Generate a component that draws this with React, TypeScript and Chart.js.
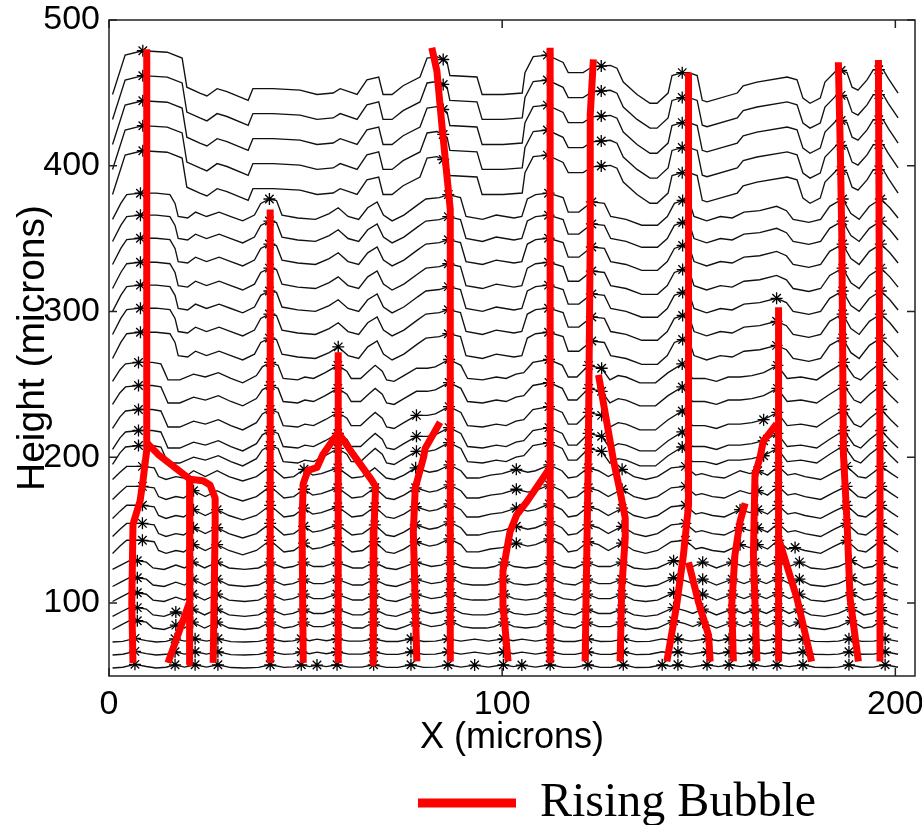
import React, { useEffect, useRef } from 'react';
import { Chart, registerables } from 'chart.js';

Chart.register(...registerables);

// Axis ticks
const X_TICKS = [0, 100, 200];
const Y_TICKS = [100, 200, 300, 400, 500];

// Level (microns) of each interface contour at its right end, bottom to top
const LINE_LEVELS = [
  55.5, 64.4, 73.3, 82.9, 91.9, 102.1, 112.4, 124.1, 135.1, 146.7,
  159.1, 172.1, 185.8, 196.1, 206.4, 220.8, 237.3, 253.1, 268.8, 285.3,
  301.1, 316.8, 333.3, 349.1, 364.2, 381.3, 398.5, 415.6, 432.8, 449.9,
];
// Which read-off profile each contour follows
const LINE_SHAPE = [
  'F', 'F', 'F', 'E', 'E', 'E', 'E', 'E', 'D', 'D',
  'D', 'D', 'D', 'C', 'C', 'C', 'C', 'C', 'B', 'B',
  'B', 'B', 'B', 'B', 'B', 'A', 'A', 'A', 'A', 'A',
];

// Profiles: [x, height above level, (bubble-track top: asterisk shown on contours below it)]
const PROFILE_A = [
  [0.9, -1], [4.1, 26], [8.6, 29, 480], [14.8, 28], [18.6, 24], [19.8, 4], [23.1, 0], [24.9, -2],
  [27.5, 3], [30, 1], [35.4, -5], [36.6, 3], [41.7, 3], [48.6, 2], [52.9, -1], [57, 0],
  [58.8, 3], [63.1, -1], [65.6, 9], [68.6, 11], [69.7, -1], [72, -1], [74.8, 5], [79.1, 11],
  [80.9, 24], [83.4, 25], [85, 23, 481], [86, 21], [86.7, 12], [93.6, 11], [94.9, -1], [100.2, -1],
  [105.1, 0], [105.8, 14], [107.9, 25], [111.5, 26, 481], [115.5, 21], [116.8, 14], [120.6, 14], [122.9, 18],
  [125.2, 18.5, 473], [127.5, 19], [129.2, 17], [130.8, 7.5], [134.3, -1], [137.6, -7], [139.4, -7], [142.2, 0],
  [143.2, 12], [145.8, 14, 464], [147.5, 14], [149.6, 12], [150.9, -5], [152.1, -6], [159.8, 0], [161.3, 5],
  [164.8, 7.5], [172.5, 11], [175, 9], [176.5, -3.5], [178.3, -7], [180.9, -3.5], [182.1, 7.5], [185.2, 16],
  [186.2, 15.5, 471], [187.7, 14], [189, 4], [190.5, 2], [192.8, 9], [194.4, 16], [195.8, 16, 472], [196.9, 16],
  [198.2, 10], [200.7, 0],
];
const PROFILE_B = [
  [0.9, -1], [3, 10], [4.5, 16], [8, 17, 480], [12, 17], [15.5, 16], [16.8, 10], [17.6, 1],
  [20, 0], [22, 4], [24.8, 1], [28, 4], [31, 1], [34, -2], [37, 2], [38.6, 10],
  [40.8, 13, 370], [42.6, 12], [44, 2], [48, 0], [52.5, -1], [56, 3], [58.3, 7, 272], [60.8, 1],
  [63.5, -1], [65.8, 7], [68.2, 11], [69.8, 2], [72, -2], [75, 2], [78.5, 9], [80.6, 13],
  [84, 14], [86.3, 16, 481], [89.4, 14], [90.8, 1], [95, -1], [98.5, 2], [103, 0], [105, 1],
  [106.4, 13], [108.5, 16], [111.8, 17, 481], [115.5, 14], [116.8, 4], [119.5, 4], [122.8, 11, 473], [126, 10],
  [127.6, 1], [131.5, -1], [135.5, -5], [139.5, -5], [142, 1], [143.8, 10], [145.9, 12, 464], [147.6, 11],
  [148.8, 1], [152, -2], [155.5, 1], [158.5, 0], [161.5, 4], [165.5, 5], [169.8, 8, 303], [172.3, 5],
  [174, -1], [178, -3], [181, -1], [183.3, 8], [186.6, 13, 471], [188.7, 3], [190.8, -1], [193.4, 8],
  [196.3, 13, 472], [198.6, 7], [200.7, 0],
];
const PROFILE_C = [
  [0.9, -1], [2.8, 7], [4.2, 11], [7.5, 12, 480], [11, 12], [13.2, 11], [14.2, 5], [15, 0],
  [18, 0], [21.5, 4, 185], [24.5, 2], [27.8, 5, 172], [31, 1], [34, -2], [37.5, 3], [39, 9],
  [41, 12, 370], [43, 10], [44.3, 1], [48, 0], [49.8, 2, 190], [52, 1], [55, 5], [58.2, 10, 272],
  [60.5, 6], [61.6, 1], [64, 1], [66, 6], [67.7, 10, 180], [69.5, 6], [70.6, 0], [72.5, -1],
  [75, 3], [78.2, 8, 224], [81, 8], [83, 9], [86.5, 14, 481], [89.5, 10], [91.2, 1], [95, 0],
  [98.5, 2], [101, 1], [103.5, 4, 190], [105.5, 5], [107.8, 12], [111.9, 14, 481], [115.3, 10], [116.8, 2],
  [119, 2], [122, 10, 473], [125.3, 8, 256], [127.4, 0], [129.5, 3], [131.5, 2], [135, -2], [139, -2],
  [142.2, 5], [145.8, 11, 464], [148.4, 1], [151.5, 1], [154.5, -1], [157.5, 2], [160.5, 2], [163.5, 3],
  [166.5, 5, 223], [170, 10, 303], [172.5, 1], [176, 2], [180, 0], [183.3, 6], [186.9, 12, 471], [189.5, 2],
  [191.2, 0], [193.5, 6], [196.4, 12, 472], [198.8, 5], [200.7, 0],
];
const PROFILE_D = [
  [0.9, -1], [2.8, 4], [4.5, 8], [8.5, 8, 480], [11.5, 7], [12.6, 1], [14.5, -1], [17, 1],
  [19, 0], [21.5, 5, 185], [24.5, 1], [27.5, 5, 172], [30.5, 1], [34, -2], [37.5, 1], [41, 8, 370],
  [44.5, 0], [47, 1], [49.6, 6, 190], [51.8, 2], [54, 3], [58.2, 7, 272], [61.8, 0], [64.5, 1],
  [67.6, 7, 180], [70.5, 0], [72.5, -1], [75, 2], [78, 7, 224], [81.5, 4], [83.5, 5], [86.6, 9, 481],
  [89.5, 5], [91, 0], [94, 0], [97, 2], [100, 3], [103.6, 6, 190], [106.5, 4], [108.5, 5],
  [112, 9, 481], [115.2, 5], [116.8, 0], [119, 1], [121.9, 7, 473], [124.5, 5], [127, 1], [130.5, 6, 256],
  [133.5, 1], [136.5, -1], [139.5, 1], [143, 7], [146.6, 8, 464], [149.2, 2], [150.8, 3], [153.5, 1],
  [156.5, 0], [160.5, 5, 168], [163, 3], [165, 5, 223], [167.5, 2], [170.2, 8, 303], [172.6, 2], [174.5, 3, 144],
  [177, 1], [181, -1], [184.5, 4], [187.6, 8, 471], [190.5, 1], [192.5, 0], [194.5, 4], [196.4, 8, 472],
  [199, 3], [200.7, 0],
];
const PROFILE_E = [
  [0.9, -1], [3, 2], [5.2, 5], [7.2, 5, 480], [9.5, 4], [11.2, 0], [14, -1], [17, 2, 100],
  [19.2, 0], [21.3, 4, 185], [24.3, 0], [27.5, 4, 172], [30.5, 0], [34.5, -1], [38, 0], [41, 4, 370],
  [44.5, 0], [46.8, 1], [49.5, 4, 190], [52, 1], [54.5, 1], [58, 4, 272], [62, 0], [64.5, 0],
  [67.4, 4, 180], [70.5, 0], [73, -1], [75.2, 1], [78, 4, 224], [82, 1], [84.5, 2], [86.8, 5, 481],
  [89.8, 1], [92.5, 0], [96, 0], [98, 1], [100.5, 4, 190], [103, 1], [106, 0], [109, 1],
  [112.1, 5, 481], [115.5, 1], [118.5, 0], [121.6, 4, 473], [124.5, 1], [127.5, 1], [130.4, 4, 256], [133.5, 0],
  [136.5, -1], [139.5, 0], [143.6, 5, 464], [146.5, 3], [148.5, 1], [151, 4, 128], [154.5, 0], [158.5, 4, 168],
  [161.5, 1], [164.3, 4, 223], [167.2, 1], [170.2, 5, 303], [173, 1], [175.6, 4, 144], [178.5, 0], [182, -1],
  [185.5, 1], [188.8, 5, 471], [192, 0], [194.2, 1], [196.4, 5, 472], [199, 1], [200.7, 0],
];
const PROFILE_F = [
  [0.9, 0], [3.5, 0.5], [6.6, 2.5, 480], [9.5, 1], [12, 0], [14.5, 0.5], [16.8, 2.2, 100], [19.2, 0.6],
  [21.9, 2.2, 185], [24.8, 0.6], [27.7, 2.2, 172], [31, 0.3], [34.5, 0], [38, 0.4], [41, 2.2, 370], [44.5, 0.4],
  [46.8, 0.8], [48.9, 2.2, 190], [51, 0.9], [52.9, 2, 60], [55.3, 0.9], [58, 2.2, 272], [61, 0.6], [64.3, 0.6],
  [67.3, 2.2, 180], [70.5, 0.4], [73.5, 0.4], [76.8, 2.2, 224], [80, 0.4], [83, 0.6], [86.2, 2.2, 481], [89.5, 0.6],
  [93, 2, 60], [96.5, 0.6], [100.3, 2.2, 190], [102.8, 0.9], [105, 2, 60], [108.5, 0.6], [112.2, 2.2, 481], [115.5, 0.4],
  [118.5, 0.4], [121.8, 2.2, 473], [125, 0.4], [127.8, 0.5], [130.8, 2.2, 256], [134, 0.3], [137.5, 0.5], [140.7, 2.2, 60],
  [142.7, 1.2], [144.7, 2.2, 464], [148, 0.6], [152.1, 2.2, 128], [155, 0.9], [157.7, 2.2, 168], [160.7, 0.9], [163.8, 2.2, 223],
  [166.8, 0.9], [169.9, 2.2, 303], [173, 0.9], [176.5, 2.2, 144], [179.5, 0.5], [183, 0.3], [185.5, 0.6], [188.2, 2.2, 471],
  [191.5, 0.5], [194.5, 0.6], [197.4, 2.2, 472], [200.7, 0.5],
];
const PROFILES = { A: PROFILE_A, B: PROFILE_B, C: PROFILE_C, D: PROFILE_D, E: PROFILE_E, F: PROFILE_F };

// Rising bubble tracks [x, y]
const TRACK_1 = [[6.1, 59], [5.8, 100], [6.1, 154], [7.9, 170], [8.6, 183], [9.6, 205], [9.6, 480]];
const TRACK_1B = [[9.6, 210], [12.5, 202], [20.6, 185], [23.9, 184], [25.7, 181], [27, 172], [27, 154], [26.5, 59]];
const TRACK_2 = [[20.6, 185], [20.4, 100], [20.6, 59]];
const TRACK_2B = [[20.4, 100], [15, 59]];
const TRACK_3 = [[41, 59], [41, 370]];
const TRACK_4 = [[58.3, 59], [58.3, 272]];
const TRACK_4B = [[58.3, 217], [54.4, 202], [52.9, 193], [50.6, 191], [49.4, 182], [49.1, 156], [49.4, 59]];
const TRACK_4C = [[58.3, 217], [62.1, 202], [66.9, 184], [67.8, 180], [67.4, 150], [67.2, 59]];
const TRACK_5 = [[78.3, 60], [77.4, 149], [77.9, 179], [80, 200], [80.4, 206], [84.2, 224]];
const TRACK_6 = [[86.8, 60], [86.8, 370], [84.6, 430], [83.4, 465], [82.1, 481]];
const TRACK_7 = [[101.5, 60], [100.2, 99], [100.2, 122], [102, 149], [103.7, 160.5], [106.3, 169.6], [112.2, 193]];
const TRACK_8 = [[112.2, 59], [112.2, 481]];
const TRACK_9 = [[121.1, 60], [121.9, 200], [122.4, 349], [122.4, 435], [123.2, 473]];
const TRACK_10 = [[124.5, 256.5], [128.3, 198], [130, 176.5], [131.3, 158.4], [131.3, 144.7], [130.4, 110], [130, 60]];
const TRACK_11 = [[141.9, 60], [144.4, 99], [146.1, 133], [147.4, 167], [147.4, 349], [147.4, 464]];
const TRACK_11B = [[147.4, 128], [149.9, 101], [152.5, 78], [152.9, 60]];
const TRACK_12 = [[158.8, 60], [158.4, 99], [159.2, 133], [160.5, 156], [161.8, 168.5]];
const TRACK_13 = [[164.8, 60], [163.9, 133], [164.3, 188], [165.6, 200], [166.4, 211], [169.8, 223]];
const TRACK_14 = [[170.3, 60], [170.3, 303]];
const TRACK_14B = [[170.3, 144.5], [175, 103], [178.7, 60]];
const TRACK_15 = [[190.6, 60], [188.5, 103], [187.7, 156], [186.8, 202], [186.4, 349], [186, 412], [185.5, 471]];
const TRACK_16 = [[196.1, 60], [196.1, 200], [195.7, 472.6]];
const TRACKS = [
  TRACK_1, TRACK_1B, TRACK_2, TRACK_2B, TRACK_3, TRACK_4, TRACK_4B, TRACK_4C, TRACK_5, TRACK_6,
  TRACK_7, TRACK_8, TRACK_9, TRACK_10, TRACK_11, TRACK_11B, TRACK_12, TRACK_13, TRACK_14, TRACK_14B,
  TRACK_15, TRACK_16,
];

const SANS = "'Liberation Sans', Arial, Helvetica, sans-serif";
const SERIF = "'Liberation Serif', 'Times New Roman', serif";

const framePlugin = {
  id: 'frame',
  afterDatasetsDraw(chart: any) {
    const { ctx, chartArea: a, scales } = chart;
    ctx.save();
    ctx.strokeStyle = '#222';
    ctx.lineWidth = 1.5;
    ctx.strokeRect(a.left, a.top, a.right - a.left, a.bottom - a.top);
    const L = 8;
    ctx.beginPath();
    X_TICKS.forEach((v) => {
      const px = scales.x.getPixelForValue(v);
      ctx.moveTo(px, a.bottom); ctx.lineTo(px, a.bottom - L);
      ctx.moveTo(px, a.top); ctx.lineTo(px, a.top + L);
    });
    Y_TICKS.forEach((v) => {
      const py = scales.y.getPixelForValue(v);
      ctx.moveTo(a.left, py); ctx.lineTo(a.left + L, py);
      ctx.moveTo(a.right, py); ctx.lineTo(a.right - L, py);
    });
    ctx.stroke();
    ctx.restore();
  },
};

const legendPlacePlugin = {
  id: 'legendPlace',
  afterLayout(chart: any) {
    const lg = chart.legend;
    if (!lg) return;
    const w = lg.width, h = lg.height;
    lg.left = 418; lg.top = 779; lg.right = 418 + w; lg.bottom = 779 + h;
  },
};

export default function App() {
  const ref = useRef<HTMLCanvasElement | null>(null);

  useEffect(() => {
    if (!ref.current) return;

    const trackSets = TRACKS.map((t) => ({
      label: 'Rising Bubble',
      data: t.map(([x, y]) => ({ x, y })),
      borderColor: '#ff0000',
      backgroundColor: '#ff0000',
      borderWidth: 7,
      pointRadius: 0,
      tension: 0,
      fill: false,
      borderJoinStyle: 'round' as const,
    }));

    const contourSets = LINE_LEVELS.map((lvl, i) => ({
      label: 'Interface ' + (i + 1),
      data: (PROFILES as any)[LINE_SHAPE[i]].map((p: number[]) => ({
        x: p[0],
        y: lvl + p[1],
        s: p[2] && p[2] > lvl ? 1 : 0,
      })),
      borderColor: '#111',
      backgroundColor: '#000',
      borderWidth: 1.35,
      tension: 0,
      fill: false,
      pointStyle: 'star' as const,
      pointRadius: (c: any) => (c.raw && c.raw.s ? 6 : 0),
      pointBorderColor: '#000',
      pointBorderWidth: 1.3,
    }));

    const chart = new Chart(ref.current, {
      type: 'line',
      data: { datasets: [...trackSets, ...contourSets] as any },
      plugins: [framePlugin, legendPlacePlugin],
      options: {
        animation: false,
        responsive: true,
        maintainAspectRatio: false,
        events: [],
        layout: { padding: { top: 20, right: 7, left: 0, bottom: 0 } },
        plugins: {
          tooltip: { enabled: false },
          legend: {
            display: true,
            position: 'chartArea',
            align: 'start',
            labels: {
              boxWidth: 98,
              boxHeight: 9,
              padding: 0,
              color: '#000',
              font: { family: SERIF, size: 48 },
              generateLabels: (ch: any) => [
                {
                  text: ch.data.datasets[0].label,
                  fillStyle: '#ff0000',
                  strokeStyle: '#ff0000',
                  lineWidth: 0,
                  hidden: false,
                  datasetIndex: 0,
                  fontColor: '#000',
                },
              ],
            },
          },
        },
        scales: {
          x: {
            type: 'linear',
            min: 0,
            max: 205,
            afterBuildTicks: (s: any) => { s.ticks = X_TICKS.map((v) => ({ value: v })); },
            afterFit: (s: any) => { s.height = 149; s.paddingLeft = 0; s.paddingRight = 0; },
            ticks: { color: '#000', font: { family: SANS, size: 34 }, padding: 8, maxRotation: 0, autoSkip: false },
            grid: { display: false, drawTicks: false },
            border: { display: false },
            title: {
              display: true,
              text: 'X (microns)',
              color: '#000',
              font: { family: SANS, size: 36 },
              padding: { top: 0, bottom: 65 },
            },
          },
          y: {
            type: 'linear',
            min: 50,
            max: 500,
            afterBuildTicks: (s: any) => { s.ticks = Y_TICKS.map((v) => ({ value: v })); },
            afterFit: (s: any) => { s.width = 109; s.paddingTop = 0; s.paddingBottom = 0; },
            ticks: { color: '#000', font: { family: SANS, size: 34 }, padding: 9, autoSkip: false },
            grid: { display: false, drawTicks: false },
            border: { display: false },
            title: {
              display: true,
              text: 'Height (microns)',
              color: '#000',
              font: { family: SANS, size: 39 },
              padding: { top: 10, bottom: 0 },
            },
          },
        },
      } as any,
    });

    return () => chart.destroy();
  }, []);

  return (
    <div style={{ position: 'absolute', left: 0, top: 0, width: 922, height: 825, background: '#fff' }}>
      <canvas ref={ref} />
    </div>
  );
}
